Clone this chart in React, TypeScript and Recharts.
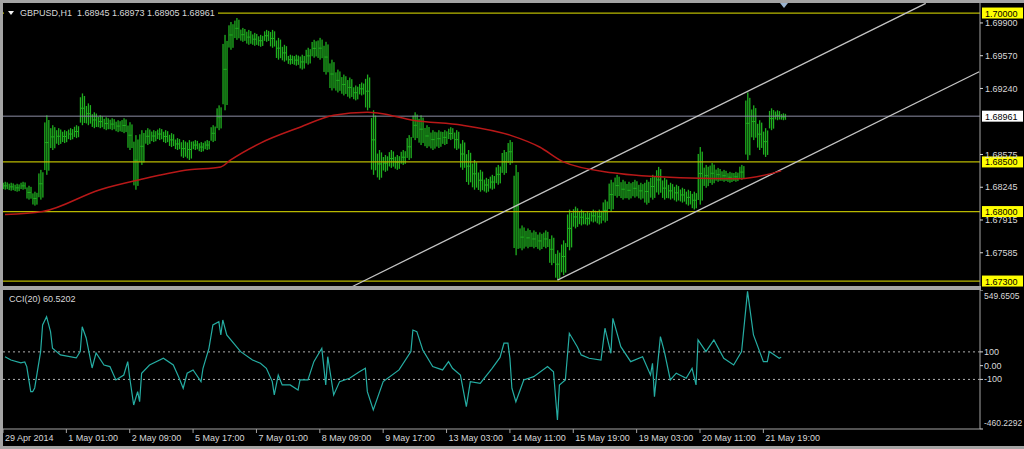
import React from 'react';
import { ComposedChart, Bar, Line, XAxis, YAxis, ReferenceLine } from 'recharts';

// GBPUSD H1, one entry per 3 hourly bars from 29 Apr 2014 17:00
const priceHigh = [
  1.6830, 1.6829, 1.6828, 1.6830, 1.6826, 1.6820, 1.6842, 1.6897, 1.6887, 1.6884,
  1.6882, 1.6884, 1.6887, 1.6919, 1.6909, 1.6900, 1.6897, 1.6895, 1.6894, 1.6892,
  1.6894, 1.6890, 1.6877, 1.6882, 1.6884, 1.6882, 1.6884, 1.6882, 1.6879, 1.6874,
  1.6872, 1.6872, 1.6872, 1.6870, 1.6872, 1.6887, 1.6907, 1.6978, 1.6991, 1.6995,
  1.6985, 1.6983, 1.6980, 1.6978, 1.6983, 1.6983, 1.6975, 1.6968, 1.6958, 1.6958,
  1.6958, 1.6965, 1.6973, 1.6975, 1.6971, 1.6953, 1.6943, 1.6938, 1.6935, 1.6927,
  1.6930, 1.6938, 1.6902, 1.6862, 1.6857, 1.6862, 1.6857, 1.6862, 1.6877, 1.6900,
  1.6897, 1.6887, 1.6882, 1.6882, 1.6882, 1.6885, 1.6882, 1.6872, 1.6862, 1.6852,
  1.6842, 1.6834, 1.6837, 1.6847, 1.6862, 1.6872, 1.6847, 1.6786, 1.6783, 1.6781,
  1.6779, 1.6781, 1.6776, 1.6761, 1.6771, 1.6802, 1.6805, 1.6802, 1.6800, 1.6802,
  1.6802, 1.6812, 1.6832, 1.6837, 1.6832, 1.6830, 1.6832, 1.6829, 1.6832, 1.6837,
  1.6845, 1.6834, 1.6829, 1.6827, 1.6824, 1.6822, 1.6820, 1.6865, 1.6847, 1.6849,
  1.6844, 1.6842, 1.6840, 1.6840, 1.6847, 1.6920, 1.6907, 1.6892, 1.6884, 1.6904,
  1.6902, 1.6899,
];
const priceLow = [
  1.6822, 1.6821, 1.6820, 1.6822, 1.6812, 1.6806, 1.6812, 1.6837, 1.6862, 1.6867,
  1.6869, 1.6872, 1.6874, 1.6887, 1.6887, 1.6884, 1.6884, 1.6882, 1.6882, 1.6880,
  1.6879, 1.6862, 1.6822, 1.6847, 1.6867, 1.6870, 1.6872, 1.6869, 1.6865, 1.6862,
  1.6854, 1.6852, 1.6862, 1.6860, 1.6862, 1.6870, 1.6882, 1.6902, 1.6963, 1.6973,
  1.6971, 1.6968, 1.6967, 1.6966, 1.6971, 1.6965, 1.6953, 1.6951, 1.6948, 1.6947,
  1.6943, 1.6948, 1.6955, 1.6953, 1.6938, 1.6922, 1.6920, 1.6917, 1.6914, 1.6912,
  1.6917, 1.6902, 1.6837, 1.6832, 1.6840, 1.6844, 1.6842, 1.6847, 1.6852, 1.6872,
  1.6867, 1.6864, 1.6862, 1.6864, 1.6867, 1.6872, 1.6862, 1.6842, 1.6827, 1.6822,
  1.6820, 1.6819, 1.6822, 1.6827, 1.6837, 1.6847, 1.6756, 1.6761, 1.6763, 1.6763,
  1.6761, 1.6763, 1.6746, 1.6731, 1.6736, 1.6761, 1.6783, 1.6786, 1.6786, 1.6789,
  1.6787, 1.6789, 1.6800, 1.6814, 1.6812, 1.6812, 1.6814, 1.6812, 1.6807, 1.6812,
  1.6817, 1.6812, 1.6812, 1.6810, 1.6809, 1.6806, 1.6802, 1.6807, 1.6824, 1.6827,
  1.6830, 1.6830, 1.6829, 1.6830, 1.6832, 1.6852, 1.6872, 1.6862, 1.6855, 1.6882,
  1.6892, 1.6892,
];

// moving average (red)
const maBars = [1, 20, 49, 69, 94, 110, 115, 130, 150, 167, 184, 190, 207, 232, 256, 271, 283, 308, 342, 372, 393];
const maValues = [
  1.6797, 1.6800, 1.6822, 1.6832, 1.6842, 1.6845, 1.6852, 1.6869, 1.6885, 1.6897,
  1.6900, 1.6899, 1.6892, 1.6887, 1.6877, 1.6865, 1.6850, 1.6839, 1.6834, 1.6833, 1.6841,
];

// CCI(20)
const cciBars = [
  1, 4, 9, 11, 12, 14, 15, 16, 19, 20, 22, 24, 25, 29, 37, 39, 40, 42, 45, 47,
  51, 54, 57, 61, 63, 64, 66, 68, 69, 70, 74, 81, 86, 89, 91, 93, 96, 100, 101, 104,
  106, 109, 110, 111, 113, 120, 126, 130, 133, 136, 137, 139, 141, 145, 149, 150, 154, 157, 161, 163,
  164, 167, 170, 175, 180, 183, 184, 187, 192, 200, 206, 207, 209, 212, 217, 222, 225, 227, 231, 234,
  236, 241, 247, 251, 253, 255, 256, 257, 259, 263, 268, 275, 278, 280, 281, 284, 286, 290, 292, 296,
  302, 304, 307, 308, 312, 317, 323, 327, 328, 329, 332, 334, 337, 340, 345, 348, 350, 351, 355, 359,
  364, 369, 371, 373, 376, 379, 384, 386, 387, 392, 393,
];
const cciValues = [
  65, 41, 20, 27, -7, -189, -189, -162, 102, 296, 356, 247, 126, 78, 56, 102, 283, 201, -17, 92,
  5, -7, -104, -68, 29, -89, -286, -189, -262, -55, 5, 54, 5, -92, -164, -55, -31, -116, -19, 126,
  296, 320, 223, 332, 223, 102, 41, 17, -19, -116, -213, -68, -140, -140, -177, -104, -104, 29, 126, -140,
  65, -213, -116, -92, -44, -19, -189, -322, -116, -31, 102, 259, 247, 114, -7, -31, 29, -19, -68, -298,
  -116, -128, -19, 60, 163, 163, 54, -164, -262, -104, -80, -7, -44, -395, -140, -104, 235, 138, 78, 54,
  41, 272, 90, 344, 138, 29, 65, -68, 17, -225, 211, 102, -104, -55, -92, -19, -140, 187, 102, 187,
  54, 5, 54, 102, 540, 223, 29, 29, 102, 54, 60.52,
];

const timeTicks = [0, 32, 64, 96, 128, 160, 192, 224, 256, 288, 320, 352, 384];
const timeLabels = [
  '29 Apr 2014', '1 May 01:00', '2 May 09:00', '5 May 17:00', '7 May 01:00', '8 May 09:00',
  '9 May 17:00', '13 May 03:00', '14 May 11:00', '15 May 19:00', '19 May 03:00', '20 May 11:00', '21 May 19:00',
];

const priceTicks = [1.699, 1.6957, 1.6924, 1.68575, 1.68245, 1.67915, 1.67585];
const levelLines = [1.7, 1.685, 1.68, 1.673];
const bidPrice = 1.68961;

// channel lines: [bar, price] end points
const channelUpper = [[176, 1.6724], [466, 1.70097]];
const channelLower = [[280, 1.6731], [493, 1.69408]];

const cciTicks = [549.6505, 100, 0, -100, -460.2292];
const cciTickLabels = ['549.6505', '100', '0.00', '-100', '-460.2292'];

const FONT = "Tahoma, 'Liberation Sans', Arial, sans-serif";
const TEXT = '#d8d8d8';
const FRAME = '#a4a4a4';
const GREEN = '#1fae1f';

const priceData = priceHigh.map((h, i) => ({ bar: i * 3 + 1, range: [priceLow[i], h] }));
const maData = maBars.map((b, i) => ({ bar: b, ma: maValues[i] }));
const cciData = cciBars.map((b, i) => ({ bar: b, cci: cciValues[i] }));

// MT4-style bar lines: each entry drawn as three thin hourly strokes
function PriceBar(props: any) {
  const { x, y, width, height } = props;
  if (height == null || isNaN(height)) return null;
  const cx = x + width / 2;
  const h = Math.max(Math.abs(height), 1);
  return (
    <g fill={GREEN}>
      <rect x={cx - 2.6} y={y + h * 0.12} width={1.3} height={h * 0.8} />
      <rect x={cx - 0.6} y={y} width={1.3} height={h} />
      <rect x={cx + 1.4} y={y + h * 0.08} width={1.3} height={h * 0.85} />
      <rect x={cx - 1.6} y={y + h * 0.45} width={3.4} height={1} />
    </g>
  );
}

function AxisBox(props: any) {
  const { viewBox, value, bg } = props;
  const x = viewBox.x + viewBox.width + 2;
  const y = viewBox.y;
  return (
    <g>
      <rect x={x} y={y - 5.5} width={41} height={11} fill={bg} />
      <text x={x + 3} y={y + 3.5} fontSize={9} fontFamily={FONT} fill="#000">
        {value}
      </text>
    </g>
  );
}

function TimeTick(props: any) {
  const { x, y, payload } = props;
  const i = timeTicks.indexOf(payload.value);
  return (
    <text x={x + 2} y={y + 6} fill={TEXT} fontSize={9} fontFamily={FONT}>
      {timeLabels[i]}
    </text>
  );
}

function CciTick(props: any) {
  const { x, y, payload } = props;
  const i = cciTicks.indexOf(payload.value);
  const dy = i === 0 ? 9 : i === cciTicks.length - 1 ? -3 : 3;
  const small = i === 0 || i === cciTicks.length - 1;
  return (
    <text x={x - 1} y={y + dy} fill={TEXT} fontSize={small ? 8.5 : 9} fontFamily={FONT}>
      {cciTickLabels[i]}
    </text>
  );
}

export default function App() {
  return (
    <div
      style={{
        position: 'absolute',
        left: 0,
        top: 0,
        width: 1024,
        height: 449,
        background: '#000',
        overflow: 'hidden',
        fontFamily: FONT,
      }}
    >
      {/* main price window */}
      <div style={{ position: 'absolute', left: 0, top: 0 }}>
        <ComposedChart width={1024} height={290} data={priceData} margin={{ top: 3, right: 0, bottom: 3, left: 3 }}>
          <XAxis dataKey="bar" type="number" domain={[0, 493.4]} allowDataOverflow hide />
          <YAxis
            orientation="right"
            width={44}
            domain={[1.6724, 1.70101]}
            allowDataOverflow
            ticks={priceTicks}
            interval={0}
            tickFormatter={(v: number) => v.toFixed(5)}
            tick={{ fill: TEXT, fontSize: 9, fontFamily: FONT }}
            tickSize={3}
            tickLine={{ stroke: TEXT }}
            axisLine={{ stroke: FRAME }}
          />
          {levelLines.map((p) => (
            <ReferenceLine
              key={p}
              y={p}
              stroke="#b8b800"
              strokeWidth={1.2}
              label={(lp: any) => <AxisBox {...lp} value={p.toFixed(5)} bg="#ffff00" />}
            />
          ))}
          <ReferenceLine
            y={bidPrice}
            stroke="#8c8ea4"
            label={(lp: any) => <AxisBox {...lp} value={bidPrice.toFixed(5)} bg="#ffffff" />}
          />
          <ReferenceLine
            segment={[
              { x: channelUpper[0][0], y: channelUpper[0][1] },
              { x: channelUpper[1][0], y: channelUpper[1][1] },
            ]}
            stroke="#c4c4c4"
            strokeWidth={1.3}
            ifOverflow="visible"
          />
          <ReferenceLine
            segment={[
              { x: channelLower[0][0], y: channelLower[0][1] },
              { x: channelLower[1][0], y: channelLower[1][1] },
            ]}
            stroke="#c4c4c4"
            strokeWidth={1.3}
            ifOverflow="visible"
          />
          <Bar dataKey="range" fill={GREEN} shape={<PriceBar />} isAnimationActive={false} />
          <Line
            data={maData}
            dataKey="ma"
            type="monotone"
            stroke="#b81818"
            strokeWidth={1.5}
            dot={false}
            isAnimationActive={false}
          />
        </ComposedChart>
      </div>

      {/* CCI window */}
      <div style={{ position: 'absolute', left: 0, top: 290 }}>
        <ComposedChart width={1024} height={159} data={cciData} margin={{ top: 0, right: 0, bottom: 0, left: 3 }}>
          <XAxis
            dataKey="bar"
            type="number"
            domain={[0, 493.4]}
            allowDataOverflow
            ticks={timeTicks}
            interval={0}
            height={20}
            tick={<TimeTick />}
            tickSize={4}
            tickLine={{ stroke: FRAME }}
            axisLine={{ stroke: FRAME }}
          />
          <YAxis
            orientation="right"
            width={44}
            domain={[-460.2292, 549.6505]}
            allowDataOverflow
            ticks={cciTicks}
            interval={0}
            tick={<CciTick />}
            tickSize={3}
            tickLine={{ stroke: TEXT }}
            axisLine={{ stroke: FRAME }}
          />
          <ReferenceLine y={100} stroke="#b0b0b0" strokeDasharray="2 3" />
          <ReferenceLine y={-100} stroke="#b0b0b0" strokeDasharray="2 3" />
          <Line
            dataKey="cci"
            type="linear"
            stroke="#25ada3"
            strokeWidth={1.2}
            dot={false}
            isAnimationActive={false}
          />
        </ComposedChart>
      </div>

      {/* window frame */}
      <div style={{ position: 'absolute', left: 0, top: 0, width: 1024, height: 3, background: FRAME }} />
      <div style={{ position: 'absolute', left: 0, top: 0, width: 3, height: 449, background: FRAME }} />
      <div style={{ position: 'absolute', left: 0, top: 286, width: 981, height: 4, background: FRAME }} />
      <div style={{ position: 'absolute', left: 0, top: 446, width: 1024, height: 3, background: FRAME }} />

      {/* chart shift marker */}
      <div
        style={{
          position: 'absolute',
          left: 780,
          top: 3,
          width: 0,
          height: 0,
          borderLeft: '4px solid transparent',
          borderRight: '4px solid transparent',
          borderTop: '5px solid #9bb4d0',
        }}
      />

      {/* titles */}
      <div
        style={{
          position: 'absolute',
          left: 4,
          top: 7,
          height: 12,
          paddingLeft: 4,
          paddingRight: 3,
          background: '#000',
          color: TEXT,
          fontSize: 9,
          lineHeight: '12px',
          whiteSpace: 'pre',
          display: 'flex',
          alignItems: 'center',
        }}
      >
        <span
          style={{
            display: 'inline-block',
            width: 0,
            height: 0,
            borderLeft: '3px solid transparent',
            borderRight: '3px solid transparent',
            borderTop: '4px solid #f0f0f0',
            marginRight: 6,
          }}
        />
        GBPUSD,H1  1.68945 1.68973 1.68905 1.68961
      </div>
      <div
        style={{
          position: 'absolute',
          left: 9,
          top: 293,
          color: TEXT,
          fontSize: 9,
          lineHeight: '12px',
          whiteSpace: 'pre',
        }}
      >
        CCI(20) 60.5202
      </div>
    </div>
  );
}
